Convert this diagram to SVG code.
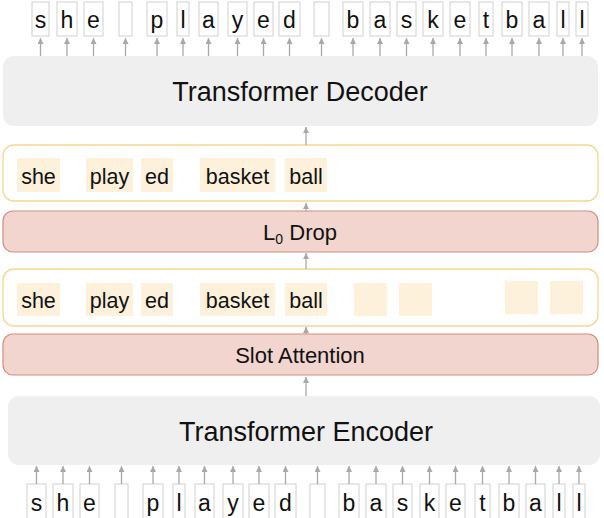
<svg xmlns="http://www.w3.org/2000/svg" width="604" height="518" viewBox="0 0 604 518">
<defs>
<marker id="ah" viewBox="0 0 6 6" refX="6" refY="3" markerWidth="6" markerHeight="6" markerUnits="userSpaceOnUse" orient="auto">
<path d="M0,0 L6,3 L0,6 Z" fill="#a8a8a8"/>
</marker>
<style>
text{font-family:"Liberation Sans","Helvetica",Arial,sans-serif;fill:#111;}
.ch{fill:#fff;stroke:#d0d0d0;stroke-width:1;}
.ct{font-size:23px;text-anchor:middle;}
.tf{fill:#efefef;stroke:none;}
.tft{font-size:27px;text-anchor:middle;}
.slot{fill:#fff;stroke:#f7d58e;stroke-width:1.3;}
.tok{fill:#fdf1db;}
.tt{font-size:21.5px;text-anchor:middle;}
.red{fill:#f2d5cf;stroke:#d38c7c;stroke-width:1.2;}
.rt{font-size:22px;text-anchor:middle;}
.arr{stroke:#a8a8a8;stroke-width:1.3;fill:none;marker-end:url(#ah);}
</style>
</defs>

<g id="output-chars">
<rect class="ch" x="32" y="2" width="17" height="34"/><text class="ct" x="40.5" y="28">s</text>
<rect class="ch" x="57" y="2" width="20" height="34"/><text class="ct" x="67" y="28">h</text>
<rect class="ch" x="84" y="2" width="19" height="34"/><text class="ct" x="93.5" y="28">e</text>
<rect class="ch" x="119" y="2" width="13" height="34"/>
<rect class="ch" x="147" y="2" width="20" height="34"/><text class="ct" x="157" y="28">p</text>
<rect class="ch" x="177" y="2" width="12" height="34"/><text class="ct" x="183" y="28">l</text>
<rect class="ch" x="199" y="2" width="19" height="34"/><text class="ct" x="208.5" y="28">a</text>
<rect class="ch" x="228" y="2" width="19" height="34"/><text class="ct" x="237.5" y="28">y</text>
<rect class="ch" x="254" y="2" width="19" height="34"/><text class="ct" x="263.5" y="28">e</text>
<rect class="ch" x="279" y="2" width="21" height="34"/><text class="ct" x="289.5" y="28">d</text>
<rect class="ch" x="314" y="2" width="15" height="34"/>
<rect class="ch" x="343" y="2" width="20" height="34"/><text class="ct" x="353" y="28">b</text>
<rect class="ch" x="370" y="2" width="20" height="34"/><text class="ct" x="380" y="28">a</text>
<rect class="ch" x="397" y="2" width="19" height="34"/><text class="ct" x="406.5" y="28">s</text>
<rect class="ch" x="423" y="2" width="20" height="34"/><text class="ct" x="433" y="28">k</text>
<rect class="ch" x="450" y="2" width="20" height="34"/><text class="ct" x="460" y="28">e</text>
<rect class="ch" x="479" y="2" width="14" height="34"/><text class="ct" x="486" y="28">t</text>
<rect class="ch" x="502" y="2" width="20" height="34"/><text class="ct" x="512" y="28">b</text>
<rect class="ch" x="529" y="2" width="20" height="34"/><text class="ct" x="539" y="28">a</text>
<rect class="ch" x="557" y="2" width="12" height="34"/><text class="ct" x="563" y="28">l</text>
<rect class="ch" x="576" y="2" width="12" height="34"/><text class="ct" x="582" y="28">l</text>
</g>

<g id="decoder">
<rect class="tf" x="3" y="56" width="595" height="70" rx="11"/>
<text class="tft" x="300" y="101">Transformer Decoder</text>
</g>

<g id="slots-dropped">
<rect class="slot" x="3" y="145" width="595" height="56" rx="11"/>
<rect class="tok" x="17" y="158" width="43" height="34"/><text class="tt" x="38.5" y="184">she</text>
<rect class="tok" x="86" y="158" width="47" height="34"/><text class="tt" x="109.5" y="184">play</text>
<rect class="tok" x="141" y="158" width="32" height="34"/><text class="tt" x="157" y="184">ed</text>
<rect class="tok" x="200" y="158" width="75" height="34"/><text class="tt" x="237.5" y="184">basket</text>
<rect class="tok" x="285" y="158" width="42" height="34"/><text class="tt" x="306" y="184">ball</text>
</g>

<g id="l0-drop">
<rect class="red" x="3" y="211" width="595" height="41" rx="10"/>
<text class="rt" x="300" y="240">L<tspan font-size="14" dy="4">0</tspan><tspan dy="-4"> Drop</tspan></text>
</g>

<g id="slots">
<rect class="slot" x="3" y="269" width="595" height="57" rx="11"/>
<rect class="tok" x="17" y="283" width="43" height="33"/><text class="tt" x="38.5" y="308">she</text>
<rect class="tok" x="86" y="283" width="47" height="33"/><text class="tt" x="109.5" y="308">play</text>
<rect class="tok" x="141" y="283" width="32" height="33"/><text class="tt" x="157" y="308">ed</text>
<rect class="tok" x="200" y="283" width="75" height="33"/><text class="tt" x="237.5" y="308">basket</text>
<rect class="tok" x="285" y="283" width="42" height="33"/><text class="tt" x="306" y="308">ball</text>
<rect class="tok" x="354" y="283" width="33" height="33"/>
<rect class="tok" x="399" y="283" width="33" height="33"/>
<rect class="tok" x="505" y="281" width="33" height="33"/>
<rect class="tok" x="550" y="281" width="33" height="33"/>
</g>

<g id="slot-attention">
<rect class="red" x="3" y="334" width="595" height="41" rx="10"/>
<text class="rt" x="300" y="363">Slot Attention</text>
</g>

<g id="encoder">
<rect class="tf" x="8" y="396" width="592" height="69" rx="11"/>
<text class="tft" x="306" y="441">Transformer Encoder</text>
</g>

<g id="input-chars">
<rect class="ch" x="27" y="484" width="19" height="40"/><text class="ct" x="36.5" y="511">s</text>
<rect class="ch" x="53" y="484" width="20" height="40"/><text class="ct" x="63" y="511">h</text>
<rect class="ch" x="80" y="484" width="19" height="40"/><text class="ct" x="89.5" y="511">e</text>
<rect class="ch" x="115" y="484" width="13" height="40"/>
<rect class="ch" x="143" y="484" width="20" height="40"/><text class="ct" x="153" y="511">p</text>
<rect class="ch" x="173" y="484" width="12" height="40"/><text class="ct" x="179" y="511">l</text>
<rect class="ch" x="195" y="484" width="19" height="40"/><text class="ct" x="204.5" y="511">a</text>
<rect class="ch" x="223" y="484" width="20" height="40"/><text class="ct" x="233" y="511">y</text>
<rect class="ch" x="249" y="484" width="20" height="40"/><text class="ct" x="259" y="511">e</text>
<rect class="ch" x="275" y="484" width="21" height="40"/><text class="ct" x="285.5" y="511">d</text>
<rect class="ch" x="310" y="484" width="15" height="40"/>
<rect class="ch" x="339" y="484" width="20" height="40"/><text class="ct" x="349" y="511">b</text>
<rect class="ch" x="366" y="484" width="20" height="40"/><text class="ct" x="376" y="511">a</text>
<rect class="ch" x="393" y="484" width="19" height="40"/><text class="ct" x="402.5" y="511">s</text>
<rect class="ch" x="420" y="484" width="19" height="40"/><text class="ct" x="429.5" y="511">k</text>
<rect class="ch" x="446" y="484" width="19" height="40"/><text class="ct" x="455.5" y="511">e</text>
<rect class="ch" x="475" y="484" width="15" height="40"/><text class="ct" x="482.5" y="511">t</text>
<rect class="ch" x="499" y="484" width="20" height="40"/><text class="ct" x="509" y="511">b</text>
<rect class="ch" x="526" y="484" width="19" height="40"/><text class="ct" x="535.5" y="511">a</text>
<rect class="ch" x="553" y="484" width="12" height="40"/><text class="ct" x="559" y="511">l</text>
<rect class="ch" x="573" y="484" width="12" height="40"/><text class="ct" x="579" y="511">l</text>
</g>

<g id="connectors">
<path class="arr" d="M40.5,56 V38"/>
<path class="arr" d="M67,56 V38"/>
<path class="arr" d="M93.5,56 V38"/>
<path class="arr" d="M125.5,56 V38"/>
<path class="arr" d="M157,56 V38"/>
<path class="arr" d="M183,56 V38"/>
<path class="arr" d="M208.5,56 V38"/>
<path class="arr" d="M237.5,56 V38"/>
<path class="arr" d="M263.5,56 V38"/>
<path class="arr" d="M289.5,56 V38"/>
<path class="arr" d="M321.5,56 V38"/>
<path class="arr" d="M353,56 V38"/>
<path class="arr" d="M380,56 V38"/>
<path class="arr" d="M406.5,56 V38"/>
<path class="arr" d="M433,56 V38"/>
<path class="arr" d="M460,56 V38"/>
<path class="arr" d="M486,56 V38"/>
<path class="arr" d="M512,56 V38"/>
<path class="arr" d="M539,56 V38"/>
<path class="arr" d="M563,56 V38"/>
<path class="arr" d="M582,56 V38"/>
<path class="arr" d="M306,145 V127"/>
<path class="arr" d="M306,211 V203"/>
<path class="arr" d="M306,269 V253"/>
<path class="arr" d="M306,334 V327"/>
<path class="arr" d="M306,396 V377"/>
<path class="arr" d="M36.5,484 V466"/>
<path class="arr" d="M63,484 V466"/>
<path class="arr" d="M89.5,484 V466"/>
<path class="arr" d="M121.5,484 V466"/>
<path class="arr" d="M153,484 V466"/>
<path class="arr" d="M179,484 V466"/>
<path class="arr" d="M204.5,484 V466"/>
<path class="arr" d="M233,484 V466"/>
<path class="arr" d="M259,484 V466"/>
<path class="arr" d="M285.5,484 V466"/>
<path class="arr" d="M317.5,484 V466"/>
<path class="arr" d="M349,484 V466"/>
<path class="arr" d="M376,484 V466"/>
<path class="arr" d="M402.5,484 V466"/>
<path class="arr" d="M429.5,484 V466"/>
<path class="arr" d="M455.5,484 V466"/>
<path class="arr" d="M482.5,484 V466"/>
<path class="arr" d="M509,484 V466"/>
<path class="arr" d="M535.5,484 V466"/>
<path class="arr" d="M559,484 V466"/>
<path class="arr" d="M579,484 V466"/>
</g>
</svg>
